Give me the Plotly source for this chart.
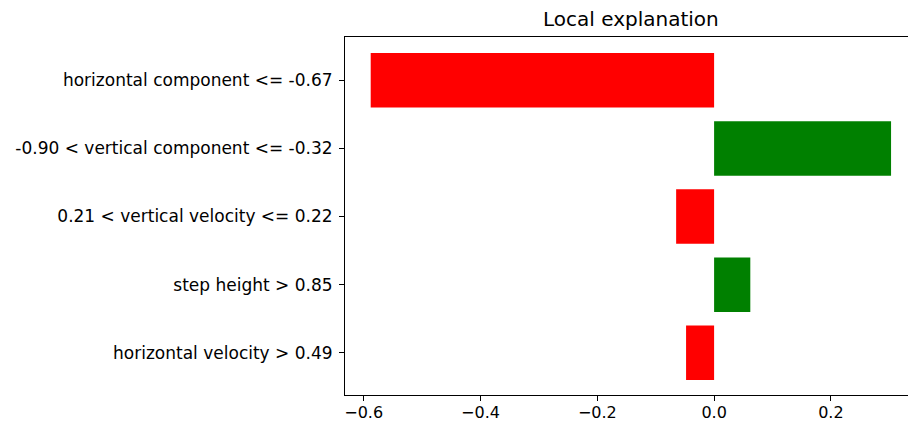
import plotly.graph_objects as go

# Feature conditions, listed top to bottom
features = [
    "horizontal component <= -0.67",
    "-0.90 < vertical component <= -0.32",
    "0.21 < vertical velocity <= 0.22",
    "step height > 0.85",
    "horizontal velocity > 0.49",
]
weights = [-0.588, 0.303, -0.065, 0.062, -0.048]

x_ticks = [-0.6, -0.4, -0.2, 0.0, 0.2]
x_tick_text = ["\u22120.6", "\u22120.4", "\u22120.2", "0.0", "0.2"]

n = len(features)
# bottom-up positions so the first feature sits at the top
positions = [n - 1 - i for i in range(n)]
colors = ["green" if w > 0 else "red" for w in weights]

FONT = "DejaVu Sans"
TICK_SIZE = 17

fig = go.Figure(
    go.Bar(
        x=weights,
        y=positions,
        orientation="h",
        width=0.8,
        marker=dict(color=colors, line=dict(width=0)),
        hoverinfo="skip",
    )
)

x_lo, x_hi = -0.632, 0.332
fig.update_layout(
    width=908,
    height=422,
    margin=dict(l=345, r=0, t=37, b=27, autoexpand=False),
    paper_bgcolor="white",
    plot_bgcolor="white",
    showlegend=False,
    font=dict(family=FONT, size=TICK_SIZE, color="black"),
    xaxis=dict(
        range=[x_lo, x_hi],
        automargin=False,
        tickvals=x_ticks,
        ticktext=x_tick_text,
        ticks="outside",
        ticklen=5,
        tickwidth=1,
        tickcolor="black",
        ticklabelstandoff=-2,
        showline=True,
        linecolor="black",
        linewidth=1,
        mirror=True,
        showgrid=False,
        zeroline=False,
        tickfont=dict(family=FONT, size=16, color="black"),
    ),
    yaxis=dict(
        range=[-0.62, n - 1 + 0.635],
        automargin=False,
        tickvals=positions,
        ticktext=features,
        ticks="outside",
        ticklen=5,
        tickwidth=1,
        tickcolor="black",
        ticklabelstandoff=3,
        showline=True,
        linecolor="black",
        linewidth=1,
        mirror=False,
        showgrid=False,
        zeroline=False,
        tickfont=dict(family=FONT, size=TICK_SIZE, color="black"),
    ),
    annotations=[
        dict(
            text="Local explanation",
            x=(x_lo + 0.347) / 2,
            xref="x",
            y=1,
            yref="paper",
            yanchor="bottom",
            yshift=4,
            showarrow=False,
            font=dict(family=FONT, size=20, color="black"),
        )
    ],
)

fig.write_html("out.html")
